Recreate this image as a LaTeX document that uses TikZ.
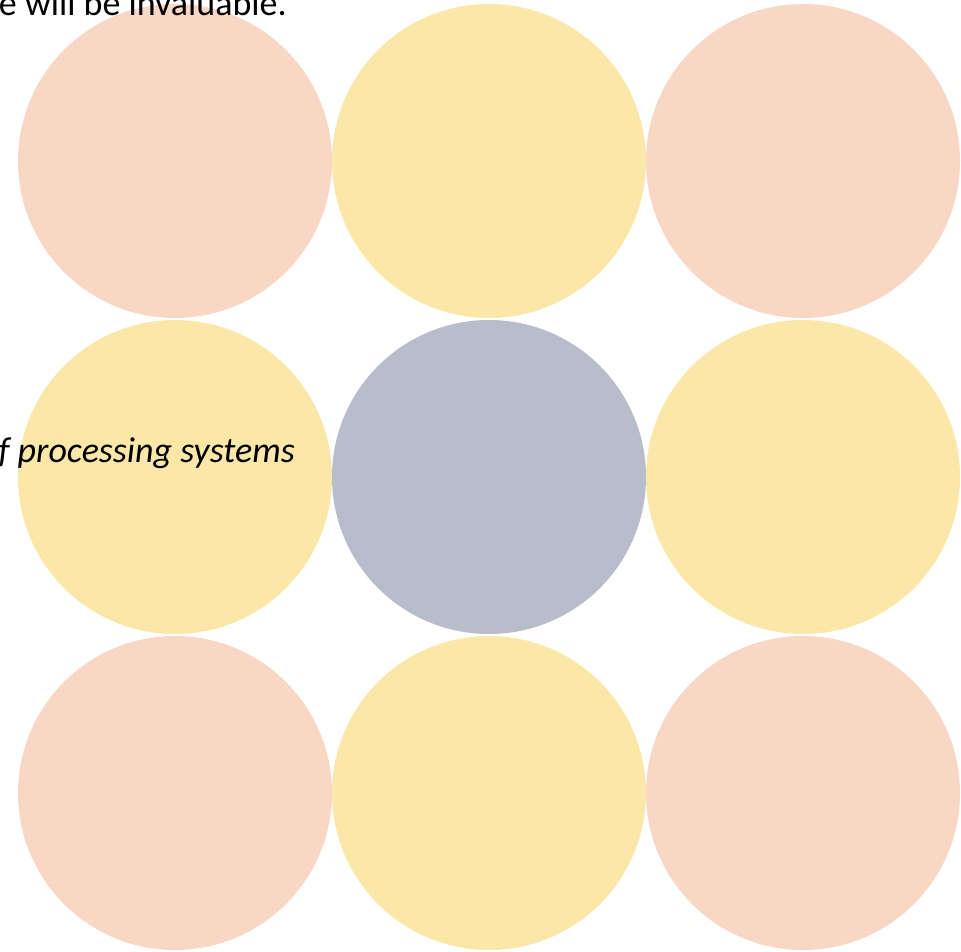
\documentclass[tikz,border=0pt]{standalone}
\usepackage{fontspec}
\setmainfont{Carlito}
\definecolor{peach}{HTML}{F9D7C5}
\definecolor{sun}{HTML}{FBE7A7}
\definecolor{slate}{HTML}{B8BDCB}
\tikzset{
  disc/.style={circle, inner sep=0pt, minimum size=314pt, draw=none},
  body/.style={font=\fontsize{36}{43}\selectfont, text=black, inner sep=0pt}
}
\begin{document}
\begin{tikzpicture}[x=1pt,y=-1pt]
\useasboundingbox (0,0) rectangle (961,951);
\clip (0,0) rectangle (961,951);
\node[disc, fill=peach] (c11) at (175,161) {};
\node[disc, fill=sun]   (c12) at (489,161) {};
\node[disc, fill=peach] (c13) at (803,161) {};
\node[disc, fill=sun]   (c21) at (175,477) {};
\node[disc, fill=slate] (c22) at (489,477) {};
\node[disc, fill=sun]   (c23) at (803,477) {};
\node[disc, fill=peach] (c31) at (175,793) {};
\node[disc, fill=sun]   (c32) at (489,793) {};
\node[disc, fill=peach] (c33) at (803,793) {};
\node[body, anchor=base east] (t1) at (287,15) {e will be invaluable.};
\node[body, anchor=base east] (t2) at (295,462) {\itshape f processing systems};
\end{tikzpicture}
\end{document}
